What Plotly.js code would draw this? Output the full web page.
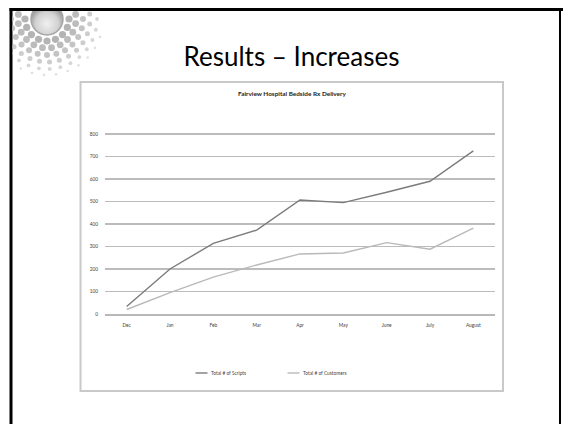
<!DOCTYPE html>
<html>
<head>
<meta charset="utf-8">
<script src="https://cdn.plot.ly/plotly-3.0.1.min.js"></script>
<style>
  html, body { margin: 0; padding: 0; background: #fff; }
  #wrap { position: relative; width: 563px; height: 424px; overflow: hidden; }
  #chart { position: absolute; left: 0; top: 0; width: 563px; height: 424px; }
  #deco { position: absolute; left: 0; top: 0; pointer-events: none; }
</style>
</head>
<body>
<div id="wrap">
  <div id="chart"></div>
  <svg id="deco" width="563" height="424"></svg>
</div>
<script>
// ---- data ----
const months = ["Dec", "Jan", "Feb", "Mar", "Apr", "May", "June", "July", "August"];
const scripts = [33, 200, 314, 373, 507, 495, 541, 590, 725];
const customers = [20, 95, 164, 218, 267, 271, 317, 288, 382];
const seriesNames = ["Total # of Scripts", "Total # of Customers"];
const yTicks = [0, 100, 200, 300, 400, 500, 600, 700, 800];
const slideTitle = "Results \u2013 Increases";
const chartTitle = "Fairview Hospital Bedside Rx Delivery";

// ---- layout helpers (pixel -> paper) ----
const L = 105, R = 495, T = 130, B = 314;
const yMax = 800 * (B - T) / 180;   // keeps 100 units = 22.5 px
const px = x => (x - L) / (R - L);
const py = y => (B - y) / (B - T);

const colScripts = "#7b7b7b";
const colCust = "#b9b9b9";
const font = "Lato, 'Open Sans', sans-serif";

const traces = [
  { x: months, y: scripts, type: "scatter", mode: "lines", name: seriesNames[0],
    line: { color: colScripts, width: 1.4 }, showlegend: false, hoverinfo: "skip" },
  { x: months, y: customers, type: "scatter", mode: "lines", name: seriesNames[1],
    line: { color: colCust, width: 1.4 }, showlegend: false, hoverinfo: "skip" }
];

const shapes = [
  // chart frame
  { type: "rect", xref: "paper", yref: "paper", x0: px(80.5), x1: px(503), y0: py(391), y1: py(82),
    line: { color: "#c9c9c9", width: 2 }, fillcolor: "rgba(0,0,0,0)", layer: "below" },
  // slide border: top, left, right
  { type: "line", xref: "paper", yref: "paper", x0: px(9.5), x1: px(563), y0: py(9.5), y1: py(9.5),
    line: { color: "#000", width: 3 } },
  { type: "line", xref: "paper", yref: "paper", x0: px(11), x1: px(11), y0: py(8), y1: py(424),
    line: { color: "#000", width: 3 } },
  { type: "line", xref: "paper", yref: "paper", x0: px(560), x1: px(560), y0: py(8), y1: py(424),
    line: { color: "#000", width: 2 } },
  // legend samples
  { type: "line", xref: "paper", yref: "paper", x0: px(195.5), x1: px(207.5), y0: py(373), y1: py(373),
    line: { color: colScripts, width: 1.4 } },
  { type: "line", xref: "paper", yref: "paper", x0: px(287.5), x1: px(299.5), y0: py(373), y1: py(373),
    line: { color: colCust, width: 1.4 } }
];

const annotations = [
  { text: "<b>" + chartTitle + "</b>", xref: "paper", yref: "paper", x: px(291.5), y: py(93.5),
    showarrow: false, xanchor: "center", yanchor: "middle", font: { family: font, size: 6.4, color: "#222" } },
  { text: seriesNames[0], xref: "paper", yref: "paper", x: px(208.5), y: py(373.3),
    showarrow: false, xanchor: "left", yanchor: "middle", font: { family: font, size: 4.8, color: "#444" } },
  { text: seriesNames[1], xref: "paper", yref: "paper", x: px(300.5), y: py(373.3),
    showarrow: false, xanchor: "left", yanchor: "middle", font: { family: font, size: 4.8, color: "#444" } }
];

const layout = {
  width: 563, height: 424,
  margin: { l: L, r: 563 - R, t: T, b: 424 - B, pad: 0 },
  paper_bgcolor: "#fff", plot_bgcolor: "rgba(0,0,0,0)",
  title: { text: slideTitle, font: { family: font, size: 26, color: "#000" },
    xref: "container", yref: "container", x: 291.5 / 563, y: 1 - 57 / 424,
    xanchor: "center", yanchor: "middle" },
  xaxis: { type: "category", range: [-0.5, 8.5], showgrid: false, zeroline: false,
    showline: true, linecolor: "#b8b8b8", linewidth: 1.6,
    ticks: "", ticklabelstandoff: 6,
    tickfont: { family: font, size: 4.8, color: "#444" }, fixedrange: true },
  yaxis: { range: [0, yMax], tickvals: yTicks, showgrid: true, gridcolor: "#bcbcbc", gridwidth: 1.6,
    zeroline: false, showline: false, ticks: "", ticklabelstandoff: 6,
    tickfont: { family: font, size: 4.8, color: "#444" }, fixedrange: true },
  shapes: shapes,
  annotations: annotations,
  showlegend: false
};

Plotly.newPlot("chart", traces, layout, { staticPlot: true, displayModeBar: false });

// ---- decorative dot emblem (top-left) ----
(function () {
  const svg = document.getElementById("deco");
  const ns = "http://www.w3.org/2000/svg";
  const cx = 47, cy = 19;
  const defs = document.createElementNS(ns, "defs");
  defs.innerHTML =
    '<radialGradient id="sph" cx="50%" cy="65%" r="55%">' +
    '<stop offset="0%" stop-color="#f0f0f0"/><stop offset="65%" stop-color="#d2d2d2"/>' +
    '<stop offset="100%" stop-color="#9c9c9c"/></radialGradient>' +
    '<clipPath id="clipd"><rect x="12.5" y="11" width="200" height="100"/></clipPath>';
  svg.appendChild(defs);
  const g = document.createElementNS(ns, "g");
  g.setAttribute("clip-path", "url(#clipd)");
  svg.appendChild(g);
  const rings = [
    { r: 22, s: 3.6, c: "#b4b4b4", step: 8.5 },
    { r: 29, s: 3.4, c: "#bcbcbc", step: 9 },
    { r: 36, s: 3.0, c: "#c4c4c4", step: 9.5 },
    { r: 43, s: 2.5, c: "#cdcdcd", step: 10 },
    { r: 50, s: 1.9, c: "#d6d6d6", step: 11 },
    { r: 56, s: 1.3, c: "#e0e0e0", step: 12 }
  ];
  rings.forEach((ring, i) => {
    const n = Math.round(2 * Math.PI * ring.r / ring.step);
    for (let k = 0; k < n; k++) {
      const a = (k + (i % 2) * 0.5) * 2 * Math.PI / n;
      const x = cx + ring.r * Math.cos(a), y = cy + ring.r * Math.sin(a);
      if (y < 11 || x > 102) continue;
      const c = document.createElementNS(ns, "circle");
      c.setAttribute("cx", x); c.setAttribute("cy", y); c.setAttribute("r", ring.s);
      c.setAttribute("fill", ring.c);
      g.appendChild(c);
    }
  });
  const s = document.createElementNS(ns, "circle");
  s.setAttribute("cx", cx); s.setAttribute("cy", cy); s.setAttribute("r", 16);
  s.setAttribute("fill", "url(#sph)"); s.setAttribute("stroke", "#a5a5a5"); s.setAttribute("stroke-width", "1.5");
  g.appendChild(s);
})();
</script>
</body>
</html>
